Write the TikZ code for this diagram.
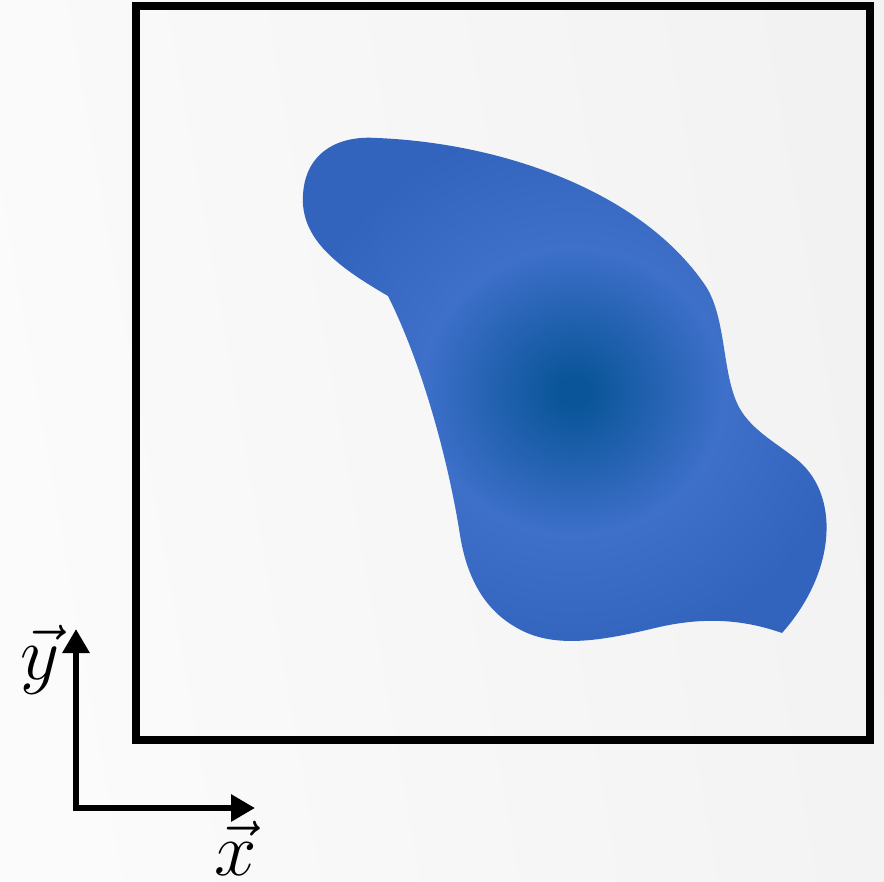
\documentclass[tikz,border=0pt]{standalone}
\usepackage{graphicx}
\usetikzlibrary{arrows.meta}

\definecolor{blobdark}{HTML}{0A5599}
\definecolor{blobmid}{HTML}{3E70CA}
\definecolor{blobedge}{HTML}{3264BE}
\definecolor{bgleft}{HTML}{FBFBFB}
\definecolor{bgright}{HTML}{F2F2F2}

\pgfdeclareradialshading{blobshade}{\pgfpoint{0.4bp}{0bp}}{%
  color(0bp)=(blobdark); color(1.5bp)=(blobdark); color(14bp)=(blobmid);
  color(26bp)=(blobedge); color(50bp)=(blobedge)}

\tikzset{
  frameline/.style={line width=4pt, line join=miter},
  axisline/.style={line width=3pt, line join=miter,
    {Triangle[width=13pt,length=12pt]}-{Triangle[width=13pt,length=12pt]}},
  axislabel/.style={font=\Huge, inner sep=0pt}
}

\begin{document}
\begin{tikzpicture}[x=0.5pt, y=-0.5pt]

	% Background
	\shade[left color=bgleft, right color=bgright, shading angle=100] (0,0) rectangle (884,882);
	\useasboundingbox (0,0) rectangle (884,882);

	% Frame
	\draw[frameline] (136,6) rectangle (870,740);

	% Blob
	\shade[shading=blobshade] (377,138)
		.. controls (500,143) and (640,190) .. (705,285)
		.. controls (726,316) and (722,370) .. (737,403)
		.. controls (748,428) and (775,442) .. (795,458)
		.. controls (840,492) and (838,570) .. (782,633)
		.. controls (745,620) and (705,616) .. (655,628)
		.. controls (605,640) and (560,648) .. (525,632)
		.. controls (490,616) and (468,585) .. (460,535)
		.. controls (450,470) and (425,370) .. (388,296)
		.. controls (340,268) and (300,240) .. (303,195)
		.. controls (305,155) and (335,135) .. (377,138)
		-- cycle;

	\coordinate (O) at (76,808);
	\coordinate (X) at (255,808);
	\coordinate (Y) at (76,629);

	% Axes
	\draw[axisline] (Y) -- (O) -- (X);

	% Axis labels
	\node[axislabel] (ylab) at (40,660) {\scalebox{1.53}{$\vec{y}$}};
	\node[axislabel] (xlab) at (236,848) {\scalebox{1.53}{$\vec{x}$}};

\end{tikzpicture}
\end{document}
